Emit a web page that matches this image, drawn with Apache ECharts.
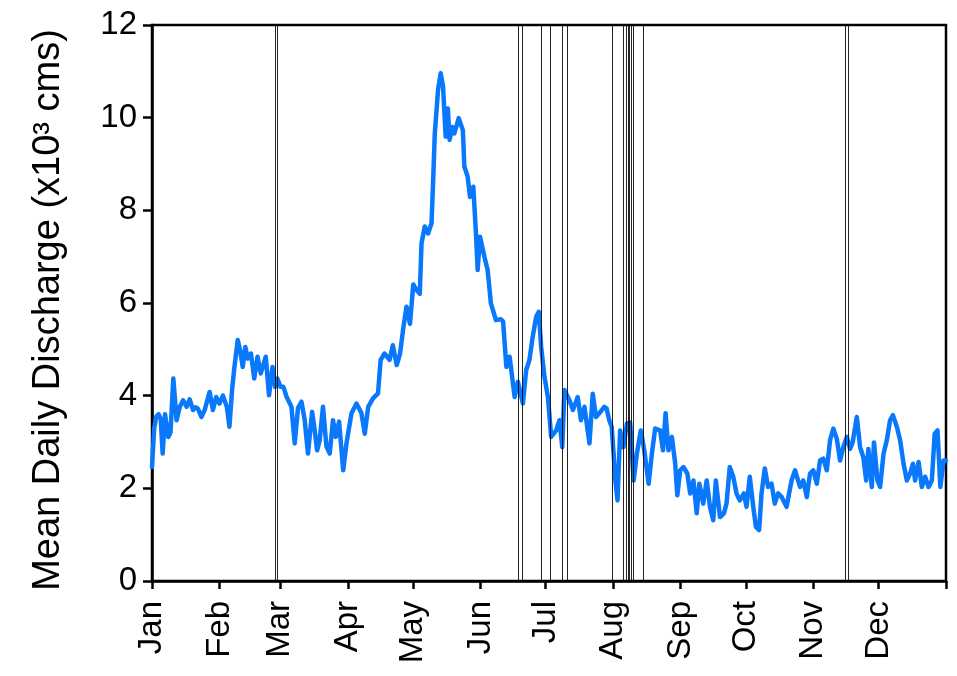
<!DOCTYPE html>
<html>
<head>
<meta charset="utf-8">
<script src="https://cdn.jsdelivr.net/npm/echarts@6/dist/echarts.min.js"></script>
<style>
html,body{margin:0;padding:0;background:#fff;}
#chart{width:957px;height:676px;}
</style>
</head>
<body>
<div id="chart"></div>
<script>
// Month labels and their day-of-year positions
const monthNames = ['Jan','Feb','Mar','Apr','May','Jun','Jul','Aug','Sep','Oct','Nov','Dec'];
const monthStartDays = [0,31,59,90,120,151,181,212,243,273,304,334];
const yearEndDay = 365;

// Mean daily discharge (x10^3 cms): [day of year, value]
const dischargePoints = [
[0,2.46],[1,3.3],[2,3.55],[3,3.6],[4,3.5],[4.9,2.75],[6,3.6],[7.5,3.11],[8.5,3.2],[9.8,4.37],
[11.3,3.47],[12.8,3.76],[14.3,3.9],[15.9,3.76],[17.3,3.92],[18.9,3.69],[20,3.75],[21.1,3.72],[22.7,3.54],[24.2,3.69],
[26.5,4.08],[28,3.69],[29.5,3.97],[31,3.83],[32.6,4.0],[34.4,3.76],[35.6,3.33],[36.8,4.12],[37.9,4.62],[39.4,5.2],
[40.5,4.98],[41.7,4.62],[42.9,5.05],[44,4.8],[45.5,4.91],[47,4.37],[48.5,4.84],[50,4.48],[51.6,4.73],[52.3,4.84],
[53.8,4.01],[55.4,4.62],[56.6,4.19],[57.6,4.37],[59.1,4.19],[60.4,4.19],[61.9,3.97],[64.1,3.76],[65.6,2.97],[67.1,3.73],
[68.7,3.87],[70.2,3.47],[71.7,2.75],[73.6,3.65],[74.8,3.25],[75.9,2.82],[77.1,3.04],[78.6,3.76],[80.2,2.9],[81.7,2.75],
[83.2,3.47],[84.5,3.11],[86,3.44],[87.9,2.39],[89.4,2.97],[91.7,3.62],[94,3.83],[96.3,3.62],[97.8,3.18],[99.4,3.76],
[101.6,3.94],[103.9,4.05],[105.1,4.77],[106.9,4.91],[109.2,4.77],[110.7,5.09],[112.5,4.66],[114,4.9],[115.5,5.45],[117,5.92],
[118.6,5.55],[120.1,6.4],[121.6,6.28],[123.1,6.2],[123.9,7.29],[125.4,7.65],[126.9,7.5],[128.5,7.72],[129.2,8.58],[130,9.66],
[131.5,10.6],[132.7,10.96],[133.8,10.67],[135,9.59],[136,10.2],[136.8,9.52],[138,9.8],[139,9.66],[141,9.99],[142.9,9.73],
[143.6,8.94],[145.1,8.73],[146.2,8.29],[147.7,8.51],[149,7.43],[149.7,6.71],[150.8,7.43],[152.8,7.0],[154.3,6.71],[155.8,5.99],
[158.1,5.63],[160.4,5.65],[161.4,5.6],[162.9,4.62],[164.4,4.84],[166.7,3.97],[168.2,4.3],[170.5,3.83],[172,4.55],[173.5,4.77],
[175,5.27],[176.6,5.7],[177.8,5.81],[178.9,5.05],[180.4,4.41],[182,3.97],[183.5,3.11],[185.8,3.25],[187.3,3.47],[188.6,2.89],
[189.6,4.12],[191.9,3.9],[193.5,3.69],[195.7,3.97],[197.2,3.47],[198.8,3.76],[201.1,2.97],[202.6,4.04],[204.1,3.54],[205.6,3.62],
[207.9,3.76],[209,3.72],[210.2,3.47],[211.3,3.33],[212.2,2.75],[213,2.17],[214,1.74],[215.2,3.25],[216.7,2.89],[218.3,3.4],
[219.8,3.42],[221.4,2.17],[222.9,2.75],[224.7,3.25],[226.3,2.82],[228.3,2.1],[229.8,2.75],[231.3,3.29],[233.6,3.25],[234.9,2.82],
[236.1,3.62],[237.4,2.82],[239,3.11],[240.5,2.54],[241.5,1.85],[242.8,2.39],[244.3,2.46],[246.1,2.32],[247.4,1.89],[248.9,2.17],
[250.4,1.46],[251.6,2.1],[253.4,1.67],[255,2.17],[256.5,1.6],[258,1.31],[259.2,2.17],[261.1,1.38],[262.9,1.46],[264.1,1.67],
[265.6,2.46],[267.2,2.25],[268.7,1.89],[270.2,1.74],[272.1,1.89],[273.3,1.6],[274.8,2.25],[276.4,1.6],[277.6,1.17],[279.1,1.1],
[280.2,1.89],[281.7,2.43],[283.2,2.03],[284.8,2.1],[286.3,1.67],[287.8,1.89],[289.5,1.81],[291.7,1.6],[294,2.17],[295.6,2.39],
[297.9,2.03],[299.4,2.17],[301,1.81],[302.5,2.32],[304,2.39],[305.6,2.1],[307.1,2.6],[308.6,2.64],[310.2,2.39],[311.7,3.04],
[313.2,3.29],[314.8,3.07],[316.3,2.6],[317.8,2.89],[319.4,3.11],[320.9,2.85],[322.1,2.99],[324,3.54],[325.5,2.89],[327,2.67],
[328.3,2.17],[329.3,2.85],[330.9,2.03],[331.9,2.99],[333.5,2.17],[334.7,2.03],[336.3,2.75],[337.8,3.04],[339.3,3.47],[340.6,3.58],
[342.4,3.33],[343.9,3.04],[345.5,2.53],[347,2.17],[348.5,2.32],[349.8,2.53],[350.8,2.17],[352.4,2.57],[353.9,2.03],[355.4,2.25],
[357,2.03],[358.5,2.17],[359.8,3.18],[361.1,3.25],[362.4,2.03],[363.9,2.6],[365,2.6]
];

// Vertical event markers (day of year)
const eventDays = [56.7,57.8,168.4,170.0,179.0,182.9,188.8,190.7,211.8,216.7,217.9,218.9,219.5,220.2,221.3,225.6,318.6,319.9];

const FONT = 'Liberation Sans, Arial, sans-serif';
const chart = echarts.init(document.getElementById('chart'), null, {renderer:'canvas'});
chart.setOption({
  animation: false,
  backgroundColor: '#ffffff',
  grid: {left:152, right:11, top:25, bottom:95, show:true, borderColor:'#000', borderWidth:2.5, backgroundColor:'transparent'},
  xAxis: {
    type:'value', min:0, max:yearEndDay,
    axisLine:{show:true, lineStyle:{color:'#000', width:2.5}},
    axisTick:{show:true, length:8, lineStyle:{color:'#000', width:2.5}, customValues: monthStartDays.concat([yearEndDay])},
    axisLabel:{show:true, rotate:90, margin:20, color:'#000', fontSize:33, fontFamily:FONT,
      customValues: monthStartDays,
      formatter: function(v){ const i = monthStartDays.indexOf(v); return i>=0 ? monthNames[i] : ''; }},
    splitLine:{show:false}
  },
  yAxis: {
    type:'value', min:0, max:12, interval:2,
    name:'Mean Daily Discharge (x10³ cms)', nameLocation:'middle', nameGap:84, nameRotate:90,
    nameTextStyle:{color:'#000', fontSize:38, fontFamily:FONT, padding:[0,14,0,0]},
    axisLine:{show:true, lineStyle:{color:'#000', width:2.5}},
    axisTick:{show:true, length:9, lineStyle:{color:'#000', width:2.5}},
    axisLabel:{color:'#000', fontSize:33, fontFamily:FONT, margin:15},
    splitLine:{show:false}
  },
  series: [{
    type:'line', data: dischargePoints, showSymbol:false, symbol:'none',
    lineStyle:{color:'#0a78fa', width:4.5, join:'round', cap:'round'},
    itemStyle:{color:'#0a78fa'},
    markLine:{
      silent:true, symbol:['none','none'], animation:false,
      label:{show:false},
      lineStyle:{color:'#000', width:1, type:'solid', opacity:0.85},
      data: eventDays.map(d => ({xAxis:d}))
    }
  }]
});
</script>
</body>
</html>
